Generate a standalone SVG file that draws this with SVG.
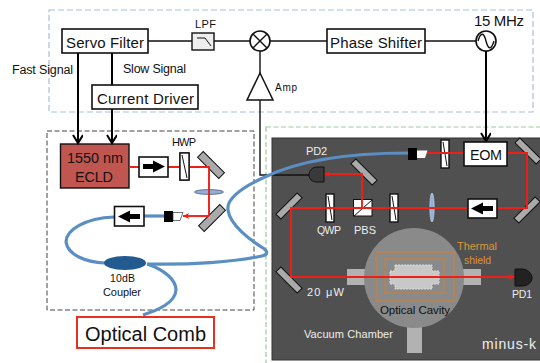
<svg xmlns="http://www.w3.org/2000/svg" width="540" height="363" viewBox="0 0 540 363">
<defs>
<style>
text{font-family:"Liberation Sans",Arial,sans-serif;fill:#111}
.w{fill:#eee}
.o{fill:#d8963c}
.box{fill:#fff;stroke:#111;stroke-width:1.6}
.k{fill:none;stroke:#111;stroke-width:1.4}
.kb{fill:none;stroke:#000;stroke-width:2}
.r{fill:none;stroke:#ee1f17;stroke-width:1.9}
.f{fill:none;stroke:#5b8fc4;stroke-width:3.2}
.m{fill:#aaa;stroke:#111;stroke-width:1}
.wp{fill:#fff;stroke:#111;stroke-width:1.4}
.stub{fill:#b2b2b2}
.sh{fill:none;stroke:#c9803c;stroke-width:1.2}
</style>
<marker id="open" markerWidth="12" markerHeight="12" refX="9" refY="5" orient="auto" markerUnits="userSpaceOnUse"><path d="M1 0L9 5L1 10" fill="none" stroke="#000" stroke-width="2"/></marker>
<marker id="red" markerWidth="8" markerHeight="8" refX="6" refY="3" orient="auto" markerUnits="userSpaceOnUse"><path d="M0 0L6 3L0 6L1.500 3Z" fill="#ee1f17"/></marker>
<path id="arrow" d="M4 7H14V3.500L26 9.500L14 15.500V12H4Z" fill="#000"/>
</defs>
<rect width="540" height="363" fill="#fff"/>
<rect x="49" y="10" width="484" height="102" fill="none" stroke="#a9bfd9" stroke-width="1.2" stroke-dasharray="6 3"/>
<rect x="47" y="131" width="207" height="179" fill="none" stroke="#444" stroke-width="1" stroke-dasharray="5 2.5"/>
<rect x="266" y="127" width="280" height="240" fill="none" stroke="#9ccb9c" stroke-width="1.2" stroke-dasharray="5 2.5"/>
<rect x="272" y="138" width="270" height="222" fill="#505050" stroke="#333"/>
<g id="chamber">
<rect class="stub" x="347" y="269" width="20" height="16"/>
<rect class="stub" x="461" y="269" width="20" height="16"/>
<rect class="stub" x="407" y="325" width="15" height="28"/>
<circle cx="414" cy="278" r="50" fill="#8a8a8a"/>
<rect class="sh" x="376" y="252" width="78" height="49"/>
<rect class="sh" x="385" y="259" width="59" height="34"/>
<path d="M395 265H432V271H439V284H432V289H395V284H390V271H395Z" fill="#c8c8c8" stroke="#ddd" stroke-dasharray="2 1"/>
</g>
<g id="servo"><rect class="box" x="62" y="29" width="86" height="24"/><text x="66" y="47.500" font-size="15" textLength="78">Servo Filter</text></g>
<g id="driver"><rect class="box" x="92" y="85" width="106" height="24"/><text x="97" y="104" font-size="15" textLength="97">Current Driver</text></g>
<g id="shifter"><rect class="box" x="327" y="29" width="98" height="24"/><text x="330" y="47.500" font-size="15" textLength="92">Phase Shifter</text></g>
<text x="12" y="74" font-size="12.500" textLength="61">Fast Signal</text>
<text x="123" y="73" font-size="12.500" textLength="63">Slow Signal</text>
<g id="lpf"><rect x="192" y="33" width="22" height="17" fill="#eee" stroke="#111" stroke-width="1.4"/><path d="M197 38H205L211 46" fill="none" stroke="#111"/><text x="195" y="28" font-size="11" textLength="21">LPF</text></g>
<g id="mixer"><circle cx="260" cy="41" r="10" fill="#fff" stroke="#111" stroke-width="1.6"/><path class="k" d="M253 34L267 48M267 34L253 48"/></g>
<g id="amp"><path d="M260 73L273 100H247Z" fill="#fff" stroke="#111" stroke-width="1.500"/><text x="275" y="91" font-size="10" textLength="22">Amp</text></g>
<g id="osc"><circle cx="486" cy="41" r="10" fill="#fff" stroke="#111" stroke-width="1.6"/><path class="k" d="M478 41C481 31 484 33 486 41C488 49 491 51 494 41"/><text x="474" y="26" font-size="15" textLength="50">15 MHz</text></g>
<g id="ecld"><rect x="60.500" y="144" width="68.500" height="44" fill="#c0564f" stroke="#111" stroke-width="1.4"/><text x="67" y="163" font-size="14.400" textLength="56">1550 nm</text><text x="75" y="182" font-size="14.400" textLength="38">ECLD</text></g>
<g id="hwp"><rect class="wp" x="180" y="153" width="9" height="27"/><path d="M182 155L187 178" stroke="#111"/><text x="172" y="146" font-size="11" textLength="24">HWP</text></g>
<g id="optics1">
<rect class="m" x="-15" y="-4" width="30" height="8" transform="translate(211 165) rotate(45)"/>
<rect class="m" x="-15" y="-4" width="30" height="8" transform="translate(212 218) rotate(-45)"/>
<ellipse cx="209" cy="192" rx="14.500" ry="2.400" fill="#8fb2d8" stroke="#446" stroke-width=".7"/>
</g>
<g id="wpEom"><rect class="wp" x="441" y="140" width="8" height="28"/><path d="M443 142L447 166" stroke="#111"/></g>
<g id="optics2">
<rect class="m" x="-15" y="-3.500" width="30" height="7" transform="translate(528 151) rotate(45)"/>
<rect class="m" x="-15" y="-3.500" width="30" height="7" transform="translate(527 210) rotate(-45)"/>
<rect class="m" x="-15" y="-3.500" width="30" height="7" transform="translate(364 172) rotate(45)"/>
<rect class="m" x="-15" y="-3.500" width="30" height="7" transform="translate(289 206) rotate(-45)"/>
<rect class="m" x="-15" y="-3.500" width="30" height="7" transform="translate(289 280) rotate(45)"/>
<ellipse cx="432" cy="207.500" rx="2.200" ry="14.500" fill="#8fb2d8" stroke="#cde" stroke-width=".6"/>
</g>
<g id="qwp"><rect class="wp" x="326" y="194" width="8" height="28"/><path d="M328 196L332 220" stroke="#111"/><text x="317" y="234" font-size="10.500" class="w" textLength="24">QWP</text></g>
<g id="pbs"><rect x="353.500" y="199.500" width="18.500" height="16.500" fill="#fff" stroke="#111"/><path d="M354 216L372 200" stroke="#111"/><text x="354" y="234" font-size="11" class="w" textLength="22">PBS</text></g>
<g id="wp3"><rect class="wp" x="390" y="194" width="8" height="28"/><path d="M392 196L396 220" stroke="#111"/></g>
<g id="connectors">
<path class="k" d="M148 41H192M214 41H250M270 41H327M425 41H476M260 51V73"/>
<path class="k" d="M260 100V175H309"/>
<path class="kb" d="M78 53V143" marker-end="url(#open)"/>
<path class="kb" d="M112 53V85"/>
<path class="kb" d="M112 109V143" marker-end="url(#open)"/>
<path class="kb" d="M486 51V141" marker-end="url(#open)"/>
<path class="f" d="M408 153C350 153 300 160 265 177C240 188 226 200 228 210C230 225 250 240 263 248C268 251 268 255 262 256C235 262 190 265 147 264"/>
<path class="f" d="M114 217C85 218 66 230 66 242C68 255 85 262 105 263"/>
<path class="f" d="M144 216H164"/>
<path class="f" d="M147 264C165 270 176 280 176 290C175 303 158 310 143 315"/>
<path class="r" d="M129 167H209V216"/>
<path class="r" d="M209 216H183" marker-end="url(#red)"/>
<path class="r" d="M425 153H527V208H291V277"/>
<path class="r" d="M291 277H515" marker-end="url(#red)"/>
<path class="r" d="M362 208V174H324" marker-end="url(#red)"/>
</g>
<g id="iso1"><rect class="box" x="139" y="157" width="29" height="20"/><use href="#arrow" x="139" y="157"/></g>
<g id="hwpTop"><rect class="wp" x="180" y="153" width="9" height="27"/><path d="M182 155L187 178" stroke="#111"/></g>
<g id="coll1"><rect x="164" y="211" width="9" height="11" fill="#000"/><path d="M173 212.500H183L180 220.500H173Z" fill="#fff" stroke="#333" stroke-width=".7"/></g>
<g id="iso2"><rect class="box" x="114.500" y="206.500" width="29.500" height="19.500"/><use href="#arrow" transform="translate(144 226) rotate(180)"/></g>
<g id="coupler"><ellipse cx="125" cy="263" rx="21" ry="7" fill="#235a8f"/><text x="110" y="282" font-size="10.500" textLength="25">10dB</text><text x="103" y="296" font-size="11" textLength="38">Coupler</text></g>
<g id="comb"><rect x="77" y="317" width="137" height="31" fill="#fff" stroke="#e8301f" stroke-width="2"/><text x="85" y="341" font-size="20" textLength="121">Optical Comb</text></g>
<g id="coll2"><rect x="408" y="148" width="9" height="12" fill="#000"/><path d="M417 150.500H427.500L425 158H417Z" fill="#fff"/></g>
<g id="eom"><rect class="box" x="464" y="142" width="43" height="24"/><text x="470" y="160" font-size="14.400" textLength="32">EOM</text></g>
<g id="iso3"><rect class="box" x="468" y="199" width="29" height="19"/><use href="#arrow" transform="translate(497 218) rotate(180)"/></g>
<g id="pd2"><path d="M324 167H317C312 167 309 171 309 175C309 179 312 182 317 182H324Z" fill="#3a3a3a" stroke="#111"/><text x="306" y="155" font-size="11" class="w" textLength="21">PD2</text></g>
<g id="pd1"><path d="M515 269H522C528 269 532 274 532 278C532 282 528 286 522 286H515Z" fill="#222" stroke="#111"/><text x="512" y="298" font-size="10.500" class="w" textLength="20">PD1</text></g>
<text x="457" y="250" font-size="11" class="o" textLength="40">Thermal</text>
<text x="464" y="264" font-size="10.500" class="o" textLength="27">shield</text>
<text x="307" y="296" font-size="11" class="w" textLength="37">20 μW</text>
<text x="380" y="314" font-size="11.500" textLength="70">Optical Cavity</text>
<text x="304" y="338" font-size="11" class="w" textLength="89">Vacuum Chamber</text>
<text x="482" y="349" font-size="14" class="w" textLength="54">minus-k</text>
</svg>
